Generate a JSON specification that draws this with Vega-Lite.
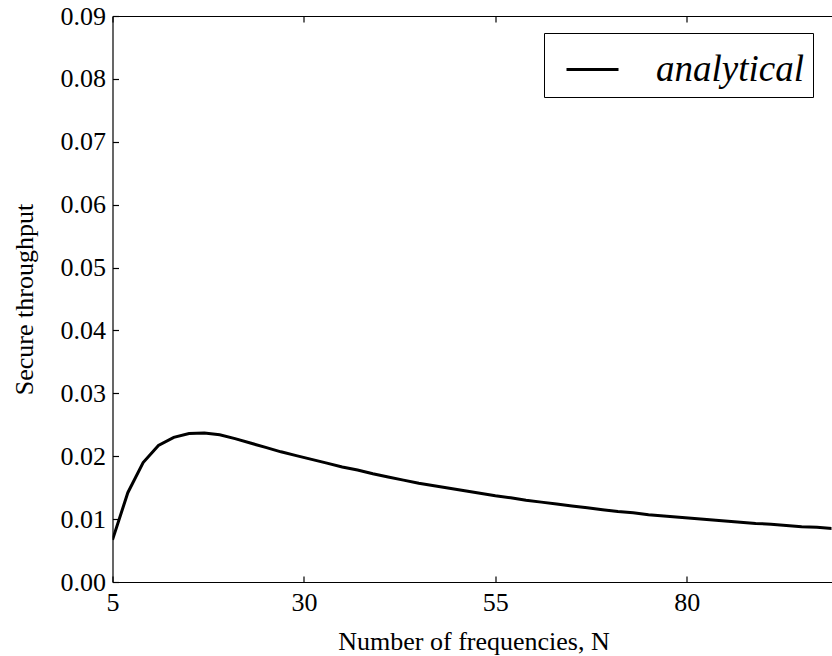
{
  "$schema": "https://vega.github.io/schema/vega-lite/v6.json",
  "width": 719,
  "height": 566,
  "autosize": "none",
  "padding": {"left": 112.5, "top": 16, "right": 0, "bottom": 74},
  "background": "white",
  "config": {
    "view": {"stroke": null},
    "font": "Times New Roman, Liberation Serif, serif",
    "axis": {
      "grid": false,
      "domainColor": "black",
      "domainWidth": 1.2,
      "tickColor": "black",
      "tickWidth": 1.2,
      "tickSize": -6,
      "labelColor": "black",
      "labelFont": "Times New Roman, Liberation Serif, serif",
      "labelFontSize": 26,
      "titleFont": "Times New Roman, Liberation Serif, serif",
      "titleFontSize": 26,
      "titleFontWeight": "normal",
      "titleColor": "black",
      "labelFlush": false,
      "labelOverlap": false
    }
  },
  "data": {
    "values": [
      {"N": 5, "v": 0.0067, "series": "analytical"},
      {"N": 7, "v": 0.0142, "series": "analytical"},
      {"N": 9, "v": 0.0190, "series": "analytical"},
      {"N": 11, "v": 0.0217, "series": "analytical"},
      {"N": 13, "v": 0.0230, "series": "analytical"},
      {"N": 15, "v": 0.0236, "series": "analytical"},
      {"N": 17, "v": 0.0237, "series": "analytical"},
      {"N": 19, "v": 0.0234, "series": "analytical"},
      {"N": 21, "v": 0.0228, "series": "analytical"},
      {"N": 23, "v": 0.0221, "series": "analytical"},
      {"N": 25, "v": 0.0214, "series": "analytical"},
      {"N": 27, "v": 0.0207, "series": "analytical"},
      {"N": 29, "v": 0.0201, "series": "analytical"},
      {"N": 31, "v": 0.0195, "series": "analytical"},
      {"N": 33, "v": 0.0189, "series": "analytical"},
      {"N": 35, "v": 0.0183, "series": "analytical"},
      {"N": 37, "v": 0.0178, "series": "analytical"},
      {"N": 39, "v": 0.0172, "series": "analytical"},
      {"N": 41, "v": 0.0167, "series": "analytical"},
      {"N": 43, "v": 0.0162, "series": "analytical"},
      {"N": 45, "v": 0.0157, "series": "analytical"},
      {"N": 47, "v": 0.0153, "series": "analytical"},
      {"N": 49, "v": 0.0149, "series": "analytical"},
      {"N": 51, "v": 0.0145, "series": "analytical"},
      {"N": 53, "v": 0.0141, "series": "analytical"},
      {"N": 55, "v": 0.0137, "series": "analytical"},
      {"N": 57, "v": 0.0134, "series": "analytical"},
      {"N": 59, "v": 0.0130, "series": "analytical"},
      {"N": 61, "v": 0.0127, "series": "analytical"},
      {"N": 63, "v": 0.0124, "series": "analytical"},
      {"N": 65, "v": 0.0121, "series": "analytical"},
      {"N": 67, "v": 0.0118, "series": "analytical"},
      {"N": 69, "v": 0.0115, "series": "analytical"},
      {"N": 71, "v": 0.0112, "series": "analytical"},
      {"N": 73, "v": 0.0110, "series": "analytical"},
      {"N": 75, "v": 0.0107, "series": "analytical"},
      {"N": 77, "v": 0.0105, "series": "analytical"},
      {"N": 79, "v": 0.0103, "series": "analytical"},
      {"N": 81, "v": 0.0101, "series": "analytical"},
      {"N": 83, "v": 0.0099, "series": "analytical"},
      {"N": 85, "v": 0.0097, "series": "analytical"},
      {"N": 87, "v": 0.0095, "series": "analytical"},
      {"N": 89, "v": 0.0093, "series": "analytical"},
      {"N": 91, "v": 0.0092, "series": "analytical"},
      {"N": 93, "v": 0.0090, "series": "analytical"},
      {"N": 95, "v": 0.0088, "series": "analytical"},
      {"N": 97, "v": 0.0087, "series": "analytical"},
      {"N": 99, "v": 0.0085, "series": "analytical"}
    ]
  },
  "layer": [
    {
      "mark": {"type": "line", "strokeWidth": 3, "clip": true},
      "encoding": {
        "x": {
          "field": "N", "type": "quantitative",
          "scale": {"domain": [5, 98.9], "nice": false, "zero": false},
          "axis": {
            "orient": "bottom",
            "values": [5, 30, 55, 80],
            "title": "Number of frequencies, N",
            "labelPadding": 13,
            "titleX": 361,
            "titleY": 67,
            "titleBaseline": "alphabetic",
            "titleAnchor": "middle"
          }
        },
        "y": {
          "field": "v", "type": "quantitative",
          "scale": {"domain": [0, 0.09], "nice": false},
          "axis": {
            "values": [0, 0.01, 0.02, 0.03, 0.04, 0.05, 0.06, 0.07, 0.08, 0.09],
            "format": ".2f",
            "title": "Secure throughput",
            "labelPadding": 13,
            "titleX": -80,
            "titleY": 283,
            "titleAngle": -90,
            "titleBaseline": "alphabetic",
            "titleAlign": "center"
          }
        },
        "stroke": {
          "field": "series", "type": "nominal",
          "scale": {"range": ["black"]},
          "legend": {
            "orient": "none",
            "legendX": 431.5,
            "legendY": 17,
            "title": null,
            "padding": 9,
            "symbolOffset": 12,
            "strokeColor": "black",
            "fillColor": "white",
            "cornerRadius": 0,
            "symbolType": "stroke",
            "symbolSize": 2704,
            "symbolStrokeWidth": 3,
            "symbolStrokeColor": "black",
            "labelFont": "Times New Roman, Liberation Serif, serif",
            "labelFontSize": 37,
            "labelFontStyle": "italic",
            "labelColor": "black",
            "labelOffset": 36
          }
        }
      }
    },
    {
      "mark": {"type": "line", "opacity": 0, "clip": true},
      "encoding": {
        "x": {
          "field": "N", "type": "quantitative",
          "scale": {"domain": [5, 98.9], "nice": false, "zero": false},
          "axis": {
            "orient": "top",
            "values": [5, 30, 55, 80],
            "labels": false,
            "title": null
          }
        },
        "y": {
          "field": "v", "type": "quantitative",
          "axis": null
        }
      }
    }
  ],
  "resolve": {"axis": {"x": "independent", "y": "independent"}}
}
